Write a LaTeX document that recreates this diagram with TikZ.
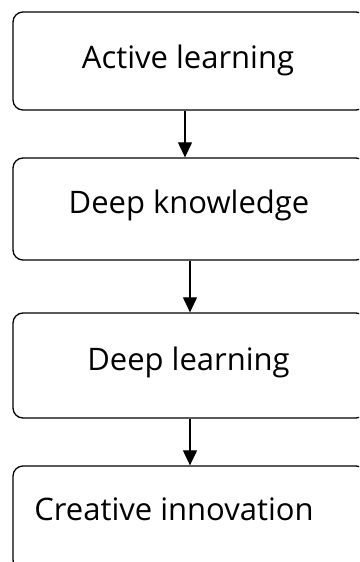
\documentclass[tikz,border=0pt]{standalone}
\usepackage{fontspec}
\setmainfont{Open Sans}
\usetikzlibrary{arrows.meta}
\begin{document}
\begin{tikzpicture}[x=1pt,y=-1pt,
  box/.style={draw=black,line width=1.3pt,rounded corners=10pt,minimum width=353pt,inner sep=0pt},
  lbl/.style={anchor=base,inner sep=0pt,font=\fontsize{31}{36}\selectfont},
  arr/.style={line width=1.2pt,-{Triangle[width=14pt,length=15pt]}}]
\clip (0,0) rectangle (359,562);
\useasboundingbox (0,0) rectangle (359,562);
\node[box,minimum height=98pt] (b1) at (189.5,61) {};
\node[box,minimum height=102pt] (b2) at (189.5,209) {};
\node[box,minimum height=105pt] (b3) at (189.5,365.5) {};
\node[box,minimum height=104pt] (b4) at (189.5,518) {};
\node[lbl] (t1) at (188,68) {Active learning};
\node[lbl] (t2) at (189,213) {Deep knowledge};
\node[lbl] (t3) at (188.5,370) {Deep learning};
\node[lbl] (t4) at (174,520) {Creative innovation};
\draw[arr] ([xshift=-4.5pt]b1.south) -- ([xshift=-4.5pt]b2.north);
\draw[arr] ([xshift=0.5pt]b2.south) -- ([xshift=0.5pt]b3.north);
\draw[arr] ([xshift=0.5pt]b3.south) -- ([xshift=0.5pt]b4.north);
\end{tikzpicture}
\end{document}
